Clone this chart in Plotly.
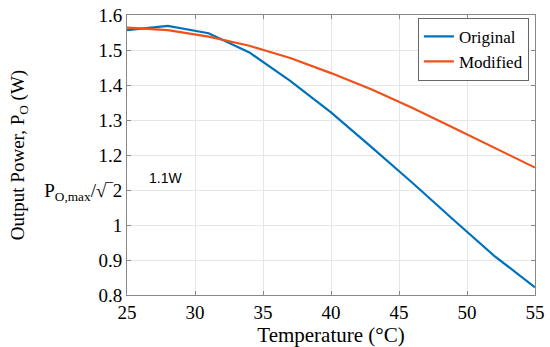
import plotly.graph_objects as go

temps = [25, 28, 31, 34, 37, 40, 43, 46, 49, 52, 55]
original = [1.557, 1.569, 1.548, 1.493, 1.412, 1.322, 1.222, 1.12, 1.015, 0.912, 0.822]
modified = [1.564, 1.557, 1.538, 1.512, 1.477, 1.434, 1.387, 1.334, 1.278, 1.222, 1.164]

ytick_vals = [0.8, 0.9, 1.0, 1.1, 1.2, 1.3, 1.4, 1.5, 1.6]
ytick_text = ["0.8", "0.9", "1", "P<sub>O,max</sub>/√‾2", "1.2", "1.3", "1.4", "1.5", "1.6"]
xtick_vals = [25, 30, 35, 40, 45, 50, 55]

serif = "Liberation Serif, DejaVu Serif, serif"

fig = go.Figure()
fig.add_trace(go.Scatter(x=temps, y=original, mode="lines", name="Original",
                         line=dict(color="#0072BD", width=2.2)))
fig.add_trace(go.Scatter(x=temps, y=modified, mode="lines", name="Modified",
                         line=dict(color="#F0501A", width=2.2)))

fig.add_annotation(x=27.8, y=1.135, text="1.1W", showarrow=False,
                   font=dict(family="Liberation Sans, Arial, sans-serif", size=14, color="black"))

fig.update_layout(
    width=550, height=347,
    margin=dict(l=127, r=15, t=15, b=52),
    paper_bgcolor="white", plot_bgcolor="white",
    font=dict(family=serif, size=18, color="black"),
    showlegend=True,
    legend=dict(x=0.985, y=0.99, xanchor="right", yanchor="top",
                bordercolor="#666", borderwidth=1, bgcolor="white",
                font=dict(family=serif, size=17), tracegroupgap=0,
                itemwidth=30),
    xaxis=dict(range=[25, 55], tickvals=xtick_vals, showgrid=True, gridcolor="#e6e6e6",
               showline=True, linecolor="#888", linewidth=1, mirror="ticks",
               ticks="inside", ticklen=4, tickcolor="#888", zeroline=False,
               ticklabeloverflow="allow", automargin=False,
               title=dict(text="Temperature (°C)", font=dict(size=21), standoff=2),
               tickfont=dict(size=19)),
    yaxis=dict(range=[0.8, 1.6], tickvals=ytick_vals, ticktext=ytick_text,
               showgrid=True, gridcolor="#e6e6e6",
               showline=True, linecolor="#888", linewidth=1, mirror="ticks",
               ticks="inside", ticklen=4, tickcolor="#888", zeroline=False,
               ticklabeloverflow="allow", automargin=False,
               title=dict(text="Output Power, P<sub>O</sub> (W)", font=dict(size=19), standoff=14),
               tickfont=dict(size=19)),
)

fig.write_html("out.html", config={"displayModeBar": False},
               post_script="document.body.style.margin='0px';document.body.style.padding='0px';")
